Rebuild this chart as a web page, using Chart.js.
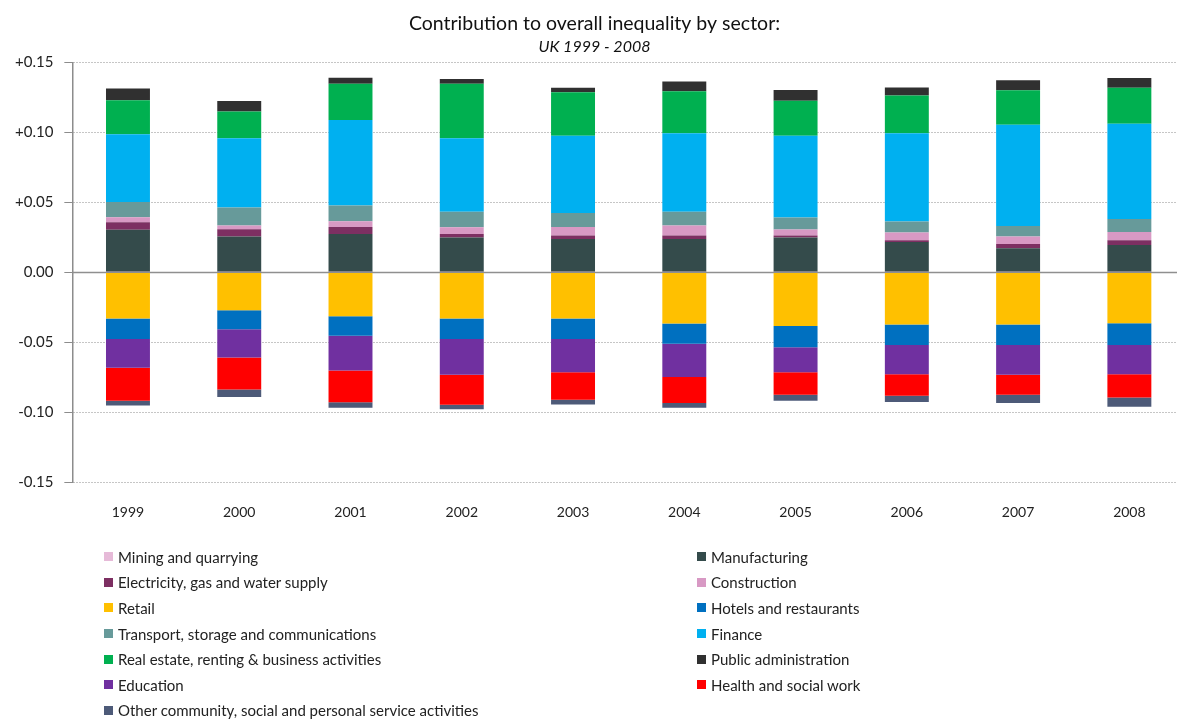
<!DOCTYPE html>
<html>
<head>
<meta charset="utf-8">
<title>Contribution to overall inequality by sector</title>
<script src="https://cdn.jsdelivr.net/npm/chart.js@4.4.1/dist/chart.umd.min.js"></script>
<style>
  html, body { margin: 0; padding: 0; background: #fff; overflow: hidden; }
  #wrap { position: absolute; left: 0; top: 0; width: 1195px; height: 553px; }
  #legend {
    position: absolute; left: 104px; top: 544px;
    display: grid; grid-template-columns: 593px auto; grid-auto-rows: 25.6px;
    font-family: Lato, "Open Sans", sans-serif; font-size: 15px; color: #222;
  }
  #legend .item { display: flex; align-items: center; white-space: nowrap; }
  #legend .box { width: 9px; height: 9px; margin-right: 5px; flex: none; }
</style>
</head>
<body>
<div id="wrap"><canvas id="sectorchart" width="1195" height="553"></canvas></div>
<div id="legend"></div>
<script>
'use strict';

// years on the category axis
const years = ['1999', '2000', '2001', '2002', '2003', '2004', '2005', '2006', '2007', '2008'];

// y axis ticks
const yTicks = [-0.15, -0.10, -0.05, 0, 0.05, 0.10, 0.15];

// contribution of each sector
const mining        = [0.0005, 0.0005, 0.0005, 0.0005, 0.0005, 0.0005, 0.0005, 0.0005, 0.0005, 0.0005];
const manufacturing = [0.0300, 0.0251, 0.0270, 0.0244, 0.0234, 0.0234, 0.0244, 0.0213, 0.0167, 0.0191];
const electricity   = [0.0053, 0.0053, 0.0050, 0.0026, 0.0024, 0.0024, 0.0014, 0.0012, 0.0031, 0.0033];
const construction  = [0.0036, 0.0026, 0.0041, 0.0048, 0.0062, 0.0072, 0.0043, 0.0055, 0.0053, 0.0060];
const retail        = [-0.0330, -0.0270, -0.0313, -0.0330, -0.0330, -0.0365, -0.0384, -0.0372, -0.0372, -0.0363];
const hotels        = [-0.0147, -0.0137, -0.0140, -0.0147, -0.0147, -0.0145, -0.0152, -0.0147, -0.0147, -0.0156];
const transport     = [0.0110, 0.0129, 0.0112, 0.0110, 0.0100, 0.0098, 0.0086, 0.0079, 0.0076, 0.0093];
const finance       = [0.0483, 0.0495, 0.0612, 0.0526, 0.0552, 0.0562, 0.0585, 0.0631, 0.0724, 0.0681];
const realEstate    = [0.0244, 0.0191, 0.0258, 0.0390, 0.0311, 0.0301, 0.0251, 0.0270, 0.0246, 0.0258];
const publicAdmin   = [0.0084, 0.0076, 0.0043, 0.0033, 0.0033, 0.0069, 0.0076, 0.0057, 0.0072, 0.0069];
const education     = [-0.0204, -0.0201, -0.0249, -0.0254, -0.0237, -0.0237, -0.0178, -0.0209, -0.0213, -0.0209];
const health        = [-0.0237, -0.0230, -0.0227, -0.0216, -0.0197, -0.0187, -0.0161, -0.0154, -0.0142, -0.0166];
const otherServices = [-0.0033, -0.0052, -0.0038, -0.0031, -0.0033, -0.0033, -0.0043, -0.0045, -0.0059, -0.0066];

function ds(label, data, colour) {
    return { label: label, data: data, backgroundColor: colour, borderWidth: 0, stack: 's' };
}

const sectors = [
    ds('Mining and quarrying', mining, '#E6BAD8'),
    ds('Manufacturing', manufacturing, '#344B4B'),
    ds('Electricity, gas and water supply', electricity, '#7D2F62'),
    ds('Construction', construction, '#D899C4'),
    ds('Retail', retail, '#FFC000'),
    ds('Hotels and restaurants', hotels, '#0070C0'),
    ds('Transport, storage and communications', transport, '#679A9A'),
    ds('Finance', finance, '#00B0F0'),
    ds('Real estate, renting & business activities', realEstate, '#00B050'),
    ds('Public administration', publicAdmin, '#303030'),
    ds('Education', education, '#7030A0'),
    ds('Health and social work', health, '#FF0000'),
    ds('Other community, social and personal service activities', otherServices, '#4D5A78')
];

// solid line at zero, the other gridlines are dotted
const zeroLine = {
    id: 'zeroLine',
    beforeDatasetsDraw(chart) {
        const y = chart.scales.y.getPixelForValue(0);
        const area = chart.chartArea;
        const ctx = chart.ctx;
        ctx.save();
        ctx.strokeStyle = '#8f8f8f';
        ctx.lineWidth = 1.5;
        ctx.beginPath();
        ctx.moveTo(area.left, y);
        ctx.lineTo(area.right, y);
        ctx.stroke();
        ctx.restore();
    }
};

const fontFam = 'Lato, "Open Sans", sans-serif';

const sectorChart = new Chart(document.getElementById('sectorchart'), {
    type: 'bar',
    data: { labels: years, datasets: sectors },
    plugins: [zeroLine],
    options: {
        responsive: false,
        animation: false,
        layout: { padding: { left: 4, right: 10, top: 0, bottom: 10 } },
        datasets: { bar: { barPercentage: 0.395, categoryPercentage: 1.0 } },
        plugins: {
            legend: { display: false },
            tooltip: { enabled: false },
            title: {
                display: true,
                text: 'Contribution to overall inequality by sector:',
                color: '#111',
                font: { family: fontFam, size: 19.5, weight: 'normal' },
                padding: { top: 12, bottom: 1 }
            },
            subtitle: {
                display: true,
                text: 'UK 1999 - 2008',
                color: '#111',
                font: { family: fontFam, size: 16, style: 'italic' },
                padding: { top: 1, bottom: 6 }
            }
        },
        scales: {
            x: {
                stacked: true,
                grid: { display: false, drawTicks: false },
                border: { display: false },
                ticks: { color: '#222', font: { family: fontFam, size: 14 }, padding: 22 }
            },
            y: {
                stacked: true,
                min: -0.15,
                max: 0.15,
                afterBuildTicks(scale) {
                    scale.ticks = yTicks.map(v => ({ value: v }));
                },
                grid: {
                    color: '#8c8c8c',
                    lineWidth: 1,
                    tickLength: 8,
                    tickColor: '#8c8c8c',
                    tickBorderDash: []
                },
                border: { display: true, color: '#8c8c8c', width: 1.5, dash: [1, 2] },
                ticks: {
                    color: '#222',
                    padding: 11,
                    font: { family: fontFam, size: 15 },
                    callback(value) {
                        const v = Math.round(value * 100) / 100;
                        if (v > 0) return '+' + v.toFixed(2);
                        return v.toFixed(2);
                    }
                }
            }
        }
    }
});

// legend in two columns like the original
const legendDiv = document.getElementById('legend');
sectorChart.data.datasets.forEach(function (d) {
    const item = document.createElement('div');
    item.className = 'item';
    const box = document.createElement('span');
    box.className = 'box';
    box.style.background = d.backgroundColor;
    const txt = document.createElement('span');
    txt.textContent = d.label;
    item.appendChild(box);
    item.appendChild(txt);
    legendDiv.appendChild(item);
});
</script>
</body>
</html>
